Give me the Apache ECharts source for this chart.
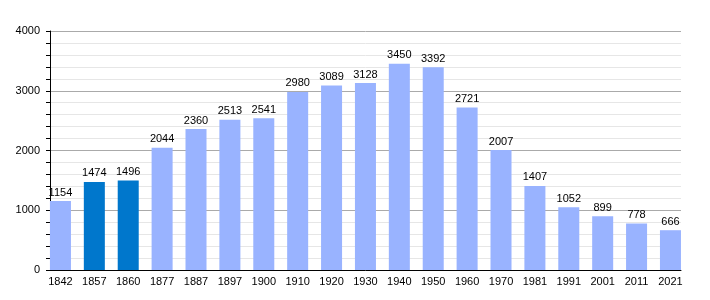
<!DOCTYPE html>
<html>
<head>
<meta charset="utf-8">
<script src="https://cdn.jsdelivr.net/npm/echarts@6/dist/echarts.min.js"></script>
<style>html,body{margin:0;padding:0;background:#fff}#c{width:710px;height:300px}</style>
</head>
<body>
<div id="c"></div>
<script>
const years = ['1842','1857','1860','1877','1887','1897','1900','1910','1920','1930','1940','1950','1960','1970','1981','1991','2001','2011','2021'];
const population = [1154,1474,1496,2044,2360,2513,2541,2980,3089,3128,3450,3392,2721,2007,1407,1052,899,778,666];
const highlightedYears = ['1857','1860'];
const yTicks = [0,1000,2000,3000,4000];

const lightColor = '#99b3ff';
const darkColor = '#0077cc';
const font = 'Liberation Sans, Arial, sans-serif';

const chart = echarts.init(document.getElementById('c'), null, {renderer:'canvas'});
chart.setOption({
  animation: false,
  grid: [
    {left: 50, right: 29, top: 31, bottom: 30},
    {left: 43.5, right: 22.6, top: 31, bottom: 30}
  ],
  xAxis: [
    {gridIndex: 0, type: 'category', data: years, boundaryGap: true,
     axisLine: {show: true, lineStyle: {color: '#000', width: 1}},
     axisTick: {show: false}, axisLabel: {show: false}, splitLine: {show: false}},
    {gridIndex: 1, type: 'category', data: years,
     axisLine: {show: false}, axisTick: {show: false},
     axisLabel: {show: true, color: '#000', fontSize: 11, fontFamily: font, margin: 6, interval: 0}}
  ],
  yAxis: [
    {gridIndex: 0, type: 'value', min: yTicks[0], max: yTicks[yTicks.length-1], interval: 1000,
     axisLine: {show: true, lineStyle: {color: '#000', width: 1}},
     axisTick: {show: true, length: 4, lineStyle: {color: '#000'}},
     minorTick: {show: true, splitNumber: 5, length: 4, lineStyle: {color: '#000'}},
     minorSplitLine: {show: true, lineStyle: {color: '#e6e6e6', width: 1}},
     splitLine: {show: true, lineStyle: {color: '#aaaaaa', width: 1}},
     axisLabel: {color: '#000', fontSize: 11, fontFamily: font, margin: 10, formatter: v => String(v)}},
    {gridIndex: 1, type: 'value', min: 0, max: 4000, show: false, splitLine: {show: false}}
  ],
  series: [{
    type: 'bar', xAxisIndex: 1, yAxisIndex: 1,
    barCategoryGap: '38%',
    data: population.map((v, i) => ({
      value: v,
      itemStyle: {color: highlightedYears.includes(years[i]) ? darkColor : lightColor}
    })),
    label: {show: true, position: 'top', distance: 3, color: '#000', fontSize: 11, fontFamily: font}
  }]
});
</script>
</body>
</html>
